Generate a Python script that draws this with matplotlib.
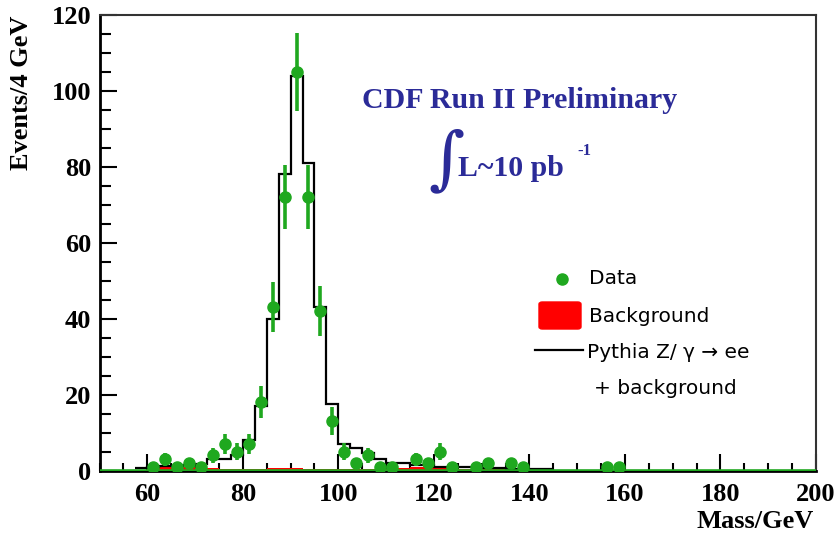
import numpy as np
import matplotlib
matplotlib.use("Agg")
import matplotlib.pyplot as plt
from matplotlib.lines import Line2D
from matplotlib.patches import FancyBboxPatch
from matplotlib.ticker import MultipleLocator

# histogram binning: 2.5 GeV bins from 50 to 200
bin_edges = np.arange(50, 200.01, 2.5)
bin_centres = bin_edges[:-1] + 1.25

# data counts per bin
data_counts = [0, 0, 0, 0, 1, 3, 1, 2, 1, 4,
               7, 5, 7, 18, 43, 72, 105, 72, 42, 13,
               5, 2, 4, 1, 1, 0, 3, 2, 5, 1,
               0, 1, 2, 0, 2, 1, 0, 0, 0, 0,
               0, 0, 1, 1, 0, 0, 0, 0, 0, 0,
               0, 0, 0, 0, 0, 0, 0, 0, 0, 0]

# Pythia Z/gamma -> ee + background
mc_counts = [0, 0, 0, 0.6, 1.0, 1.2, 1.2, 1.4, 1.8, 2.9,
             3.0, 4.2, 8.0, 17.0, 40.0, 78.0, 104.0, 81.0, 43.0, 17.5,
             7.0, 6.0, 4.5, 3.0, 2.0, 2.0, 1.5, 1.5, 1.0, 1.0,
             0.8, 0.8, 0.6, 0.6, 0.5, 0.5, 0.4, 0.4, 0, 0,
             0, 0, 0, 0, 0, 0, 0, 0, 0, 0,
             0, 0, 0, 0, 0, 0, 0, 0, 0, 0]

# background estimate
bkg_counts = [0, 0, 0, 0, 0.5, 0.8, 0.9, 0.8, 0.7, 0.6,
              0.5, 0.4, 0.3, 0.5, 0.6, 0.6, 0.6, 0.5, 0.4, 0.3,
              0.3, 0.3, 0.3, 0.4, 0.5, 0.7, 0.8, 0.8, 0.7, 0.6,
              0.5, 0.5, 0.4, 0.4, 0.3, 0.3, 0.2, 0.2, 0.2, 0.2,
              0, 0, 0, 0, 0, 0, 0, 0, 0, 0,
              0, 0, 0, 0, 0, 0, 0, 0, 0, 0]

green = '#1fa81f'
blue = '#2b2b98'

W, H = 840, 539
fig = plt.figure(figsize=(8.4, 5.39), dpi=100)
ax = fig.add_axes([99.5 / W, 1 - 470.5 / H, (816 - 99.5) / W, (470.5 - 15) / H])

data = np.array(data_counts, dtype=float)
mc = np.array(mc_counts)
bkg = np.array(bkg_counts)

# background (red fill)
ax.stairs(bkg, bin_edges, fill=True, color='red', zorder=2)

# MC histogram, drawn only where it has entries
first = np.nonzero(mc)[0][0]
last = np.nonzero(mc)[0][-1] + 1
ax.stairs(mc[first:last], bin_edges[first:last + 1], color='black', lw=1.6,
          baseline=None, zorder=3)

# green data line along zero
ax.axhline(0, color=green, lw=2.6, zorder=4)

# data points with sqrt(N) errors
nz = data > 0
ax.errorbar(bin_centres[nz], data[nz], yerr=np.sqrt(data[nz]), fmt='o',
            color=green, ms=8, elinewidth=2.6, capsize=0, zorder=5)

ax.set_xlim(50, 200)
ax.set_ylim(0, 120)
ax.xaxis.set_minor_locator(MultipleLocator(5))
ax.yaxis.set_major_locator(MultipleLocator(20))
ax.yaxis.set_minor_locator(MultipleLocator(5))
ax.set_xticks([60, 80, 100, 120, 140, 160, 180, 200])

ax.tick_params(which='both', direction='in', top=False, right=False, width=1.5)
ax.tick_params(which='major', length=12)
ax.tick_params(which='minor', length=6)
ax.tick_params(axis='y', which='minor', length=8)
ax.tick_params(axis='x', pad=9)
ax.tick_params(axis='y', pad=6)
for lab in ax.get_xticklabels() + ax.get_yticklabels():
    lab.set_fontfamily('Liberation Serif')
    lab.set_fontweight('bold')
    lab.set_fontsize(19)

for s in ['left', 'bottom']:
    ax.spines[s].set_linewidth(2)
for s in ['top', 'right']:
    ax.spines[s].set_linewidth(1.5)
    ax.spines[s].set_color('#333333')

serif_bold = dict(fontfamily='Liberation Serif', fontweight='bold')
fig.text(22 / W, 1 - 16 / H, 'Events/4 GeV', rotation=90, ha='center', va='top',
         fontsize=19, **serif_bold)
fig.text(814 / W, 1 - 522 / H, 'Mass/GeV', ha='right', va='center',
         fontsize=19, **serif_bold)

# CDF label
fig.text(520 / W, 1 - 101 / H, 'CDF Run II Preliminary', ha='center', va='center',
         fontsize=21.5, color=blue, **serif_bold)
fig.text(447 / W, 1 - 161 / H, '\u222b', ha='center', va='center',
         fontsize=50, color=blue, fontfamily='DejaVu Serif')
fig.text(458 / W, 1 - 168 / H, 'L~10 pb', ha='left', va='center',
         fontsize=21.5, color=blue, **serif_bold)
fig.text(577 / W, 1 - 151 / H, '-1', ha='left', va='center',
         fontsize=12, color=blue, **serif_bold)

# legend
sans = dict(fontfamily='DejaVu Sans', fontsize=14.5)
fig.add_artist(Line2D([562 / W], [1 - 279 / H], marker='o', ms=8, color=green,
                      transform=fig.transFigure))
fig.text(589 / W, 1 - 279 / H, 'Data', ha='left', va='center', **sans)
fig.add_artist(FancyBboxPatch((539 / W, 1 - 329 / H), 42 / W, 27 / H,
                              boxstyle='round,pad=0,rounding_size=0.004',
                              color='red', transform=fig.transFigure))
fig.text(589 / W, 1 - 316 / H, 'Background', ha='left', va='center', **sans)
fig.add_artist(Line2D([535 / W, 583 / W], [1 - 350 / H, 1 - 350 / H], color='black',
                      lw=1.6, transform=fig.transFigure))
fig.text(587 / W, 1 - 352 / H, 'Pythia Z/ \u03b3 \u2192 ee', ha='left', va='center', **sans)
fig.text(594 / W, 1 - 388 / H, '+ background', ha='left', va='center', **sans)

fig.savefig('out.png', dpi=100)
